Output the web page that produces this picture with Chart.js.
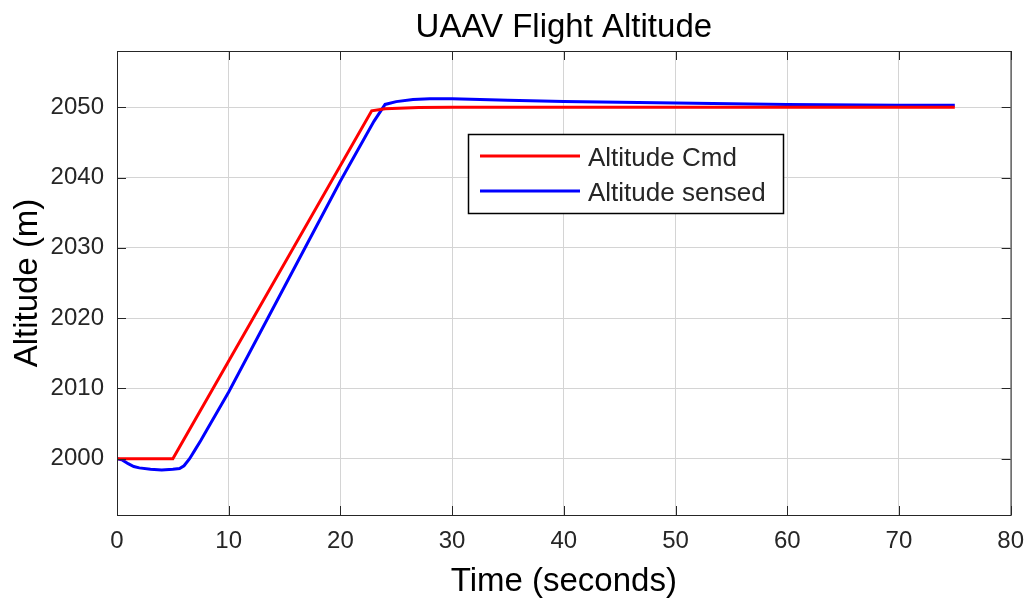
<!DOCTYPE html>
<html>
<head>
<meta charset="utf-8">
<script src="https://cdn.jsdelivr.net/npm/chart.js@4"></script>
<style>
  html, body { margin: 0; padding: 0; background: #fff; }
  #wrap { position: relative; width: 1036px; height: 601px; }
</style>
</head>
<body>
<div id="wrap"><canvas id="chart"></canvas></div>
<script>
// commanded altitude
const cmdTime = [0, 5, 22.8, 24, 27, 30, 75];
const cmdAlt = [2000, 2000, 2049.5, 2049.8, 2049.95, 2050, 2050];

// sensed altitude
const sensedTime = [0, 0.5, 1, 1.5, 2, 3, 4, 5, 5.6, 6, 6.5, 7, 7.5, 8, 10, 15, 20, 23, 24, 25, 26.5, 28, 30, 35, 40, 50, 60, 70, 75];
const sensedAlt = [2000, 1999.8, 1999.3, 1998.9, 1998.7, 1998.5, 1998.4, 1998.5, 1998.6, 1999.0, 2000, 2001.3, 2002.6, 2004, 2009.5, 2024.5, 2039.5, 2048, 2050.4, 2050.8, 2051.1, 2051.2, 2051.2, 2051, 2050.8, 2050.6, 2050.4, 2050.3, 2050.3];

const xTicks = [0, 10, 20, 30, 40, 50, 60, 70, 80];
const yTicks = [2000, 2010, 2020, 2030, 2040, 2050];

const FONT = "'Liberation Sans', Arial, Helvetica, sans-serif";
const TEXT = "#262626";

const toPoints = (xs, ys) => xs.map((x, i) => ({ x: x, y: ys[i] }));

// title, axis titles, box, and the boxed legend like MATLAB
const matlabLook = {
  id: "matlabLook",
  afterDraw(chart) {
    const ctx = chart.ctx;
    const a = chart.chartArea;
    ctx.save();

    // plot box
    ctx.strokeStyle = TEXT;
    ctx.lineWidth = 1;
    ctx.strokeRect(a.left + 0.5, a.top + 0.5, a.right - a.left, a.bottom - a.top);

    // inner tick marks
    const xs = chart.scales.x, ys = chart.scales.y;
    ctx.beginPath();
    xTicks.forEach(v => {
      const px = Math.round(xs.getPixelForValue(v)) + 0.5;
      ctx.moveTo(px, a.bottom); ctx.lineTo(px, a.bottom - 9);
      ctx.moveTo(px, a.top); ctx.lineTo(px, a.top + 9);
    });
    yTicks.forEach(v => {
      const py = Math.round(ys.getPixelForValue(v)) + 0.5;
      ctx.moveTo(a.left, py); ctx.lineTo(a.left + 9, py);
      ctx.moveTo(a.right, py); ctx.lineTo(a.right - 9, py);
    });
    ctx.stroke();

    // title
    ctx.fillStyle = "#000";
    ctx.textAlign = "center";
    ctx.textBaseline = "alphabetic";
    ctx.font = "33px " + FONT;
    ctx.fillText("UAAV Flight Altitude", (a.left + a.right) / 2, 37);

    // axis titles
    ctx.font = "33px " + FONT;
    ctx.fillText("Time (seconds)", (a.left + a.right) / 2, 591);
    ctx.save();
    ctx.translate(37, (a.top + a.bottom) / 2);
    ctx.rotate(-Math.PI / 2);
    ctx.fillText("Altitude (m)", 0, 0);
    ctx.restore();

    // legend
    const lx = 468, ly = 134, lw = 315, lh = 79;
    ctx.fillStyle = "#fff";
    ctx.fillRect(lx, ly, lw, lh);
    ctx.strokeStyle = "#000";
    ctx.lineWidth = 1.5;
    ctx.strokeRect(lx + 0.5, ly + 0.5, lw, lh);
    ctx.textAlign = "left";
    ctx.font = "26px " + FONT;
    chart.data.datasets.forEach((ds, i) => {
      const y = ly + 22 + i * 35;
      ctx.strokeStyle = ds.borderColor;
      ctx.lineWidth = 3;
      ctx.beginPath();
      ctx.moveTo(lx + 12, y);
      ctx.lineTo(lx + 112, y);
      ctx.stroke();
      ctx.fillStyle = TEXT;
      ctx.fillText(ds.label, lx + 120, y + 10);
    });

    ctx.restore();
  }
};

new Chart(document.getElementById("chart"), {
  type: "line",
  data: {
    datasets: [
      {
        label: "Altitude Cmd",
        data: toPoints(cmdTime, cmdAlt),
        borderColor: "#ff0000",
        borderWidth: 3,
        pointRadius: 0,
        tension: 0,
      },
      {
        label: "Altitude sensed",
        data: toPoints(sensedTime, sensedAlt),
        borderColor: "#0000ff",
        borderWidth: 3,
        pointRadius: 0,
        tension: 0,
      },
    ],
  },
  options: {
    responsive: true,
    maintainAspectRatio: false,
    animation: false,
    layout: { padding: { top: 51, right: 19, left: 0, bottom: 0 } },
    plugins: {
      legend: { display: false },
      title: { display: false },
      tooltip: { enabled: false },
    },
    scales: {
      x: {
        type: "linear",
        min: 0,
        max: 80,
        afterBuildTicks: s => { s.ticks = xTicks.map(v => ({ value: v })); },
        afterFit: s => { s.height = 86; },
        grid: { color: "#d4d4d4", drawTicks: false, lineWidth: 1 },
        border: { display: false },
        ticks: { color: TEXT, font: { family: FONT, size: 24 }, padding: 12, maxRotation: 0, callback: v => String(v) },
      },
      y: {
        type: "linear",
        min: 1992,
        max: 2058,
        afterBuildTicks: s => { s.ticks = yTicks.map(v => ({ value: v })); },
        afterFit: s => { s.width = 117; },
        grid: { color: "#d4d4d4", drawTicks: false, lineWidth: 1 },
        border: { display: false },
        ticks: { color: TEXT, font: { family: FONT, size: 24 }, padding: 13, callback: v => String(v) },
      },
    },
  },
  plugins: [matlabLook],
});
</script>
</body>
</html>
